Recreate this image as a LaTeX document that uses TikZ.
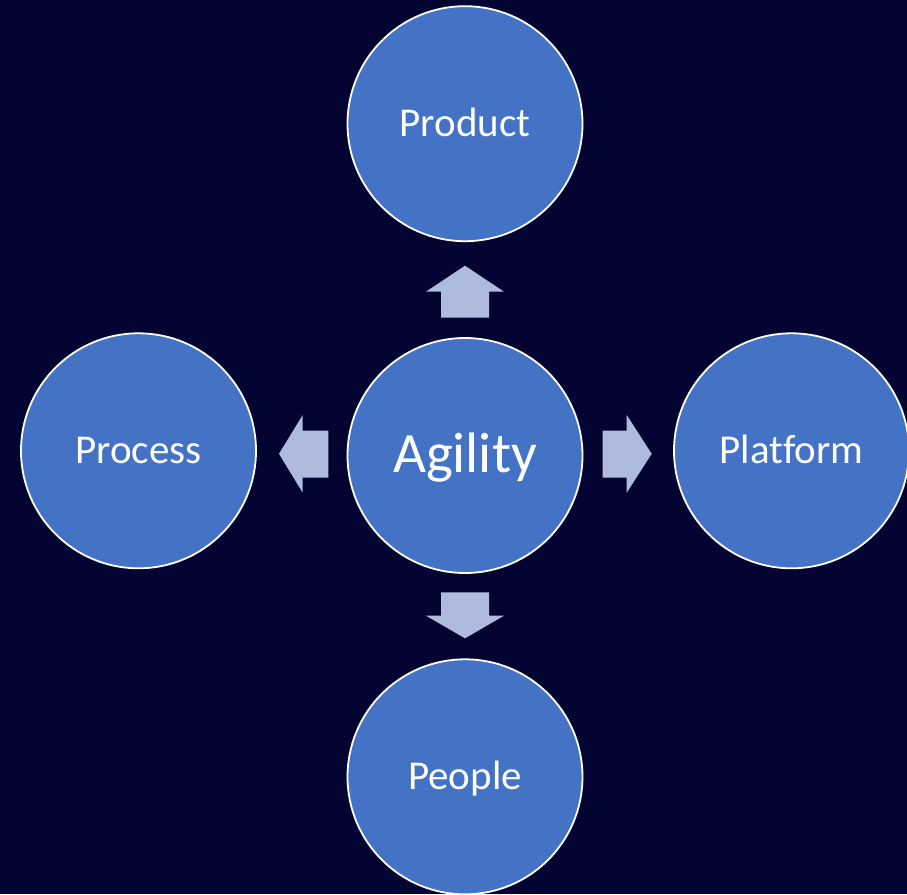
\documentclass[tikz,border=0pt]{standalone}
\usepackage{fontspec}
\setmainfont{Carlito}[Ligatures={NoCommon}]
\definecolor{bgnavy}{HTML}{040432}
\definecolor{circblue}{HTML}{4472C4}
\definecolor{arrowblue}{HTML}{AEBBDF}
\tikzset{
  topic/.style={circle, draw=white, line width=1.8pt, fill=circblue, text=white,
    minimum size=235pt, inner sep=0pt, font=\fontsize{41}{48}\selectfont,
    text height=27.9pt, text depth=2.5pt},
  hub/.style={topic, font=\fontsize{57}{66}\selectfont, text height=39.9pt, text depth=5.7pt},
  blockarrow/.style={fill=arrowblue}
}
\begin{document}
\begin{tikzpicture}[x=1pt,y=-1pt]
\fill[bgnavy] (0,0) rectangle (907,894);
\useasboundingbox (0,0) rectangle (907,894);
\node[topic] (product) at (465,123.7) {Product};
\node[hub] (agility) at (465,455.5) {Agility};
\node[topic] (process) at (138.5,450.8) {Process};
\node[topic] (platform) at (791.5,450.8) {Platform};
\node[topic] (people) at (465,776.8) {People};
% up arrow
\fill[blockarrow] (465,265.7) -- (504,291.7) -- (489,291.7) -- (489,317.7) -- (441,317.7) -- (441,291.7) -- (426,291.7) -- cycle;
% down arrow
\fill[blockarrow] (465,638.3) -- (504,615.7) -- (489,615.7) -- (489,592.3) -- (441,592.3) -- (441,615.7) -- (426,615.7) -- cycle;
% left arrow
\fill[blockarrow] (279,453.8) -- (302.7,415) -- (302.7,430.7) -- (328.3,430.7) -- (328.3,477.7) -- (302.7,477.7) -- (302.7,492.7) -- cycle;
% right arrow
\fill[blockarrow] (651.7,453.8) -- (626.7,415) -- (626.7,430.7) -- (602.7,430.7) -- (602.7,477.7) -- (626.7,477.7) -- (626.7,492.7) -- cycle;
\end{tikzpicture}
\end{document}
